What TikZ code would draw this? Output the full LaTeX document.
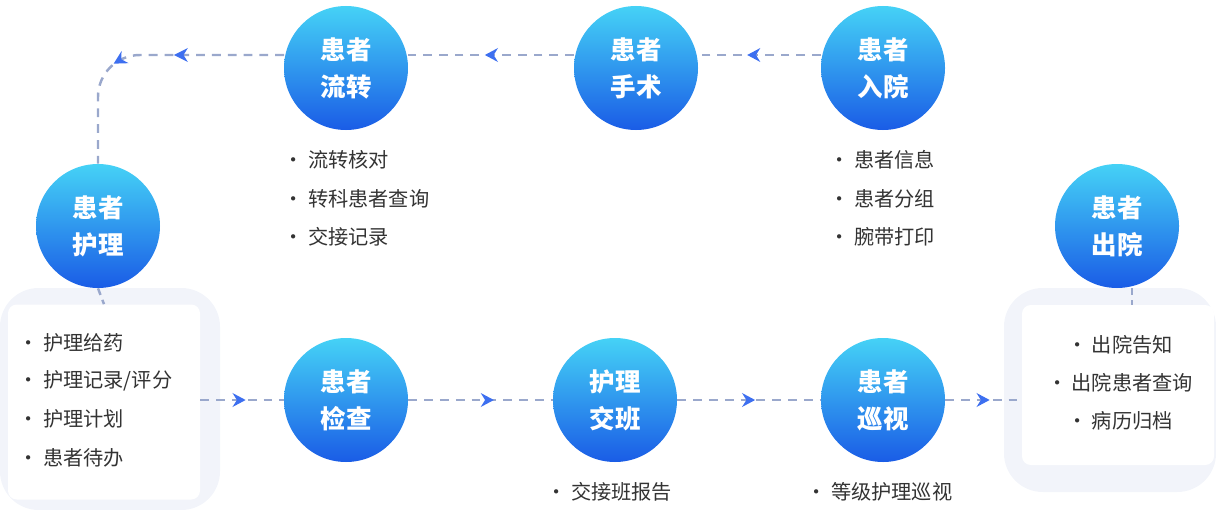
\documentclass[tikz,border=0pt]{standalone}
\usepackage{fontspec}
\newfontfamily\cjk{Noto Sans CJK SC}
\usetikzlibrary{arrows.meta,decorations.markings}
\definecolor{txt}{HTML}{333333}
\definecolor{dash}{HTML}{9AA8CC}
\definecolor{arr}{HTML}{3D6FF0}
\definecolor{ctop}{HTML}{45D2F6}
\definecolor{cbot}{HTML}{1A5CE6}
\definecolor{glow}{HTML}{F2F4FA}
\tikzset{
 circ/.style={circle,minimum size=124*0.02cm,inner sep=0pt,top color=ctop,bottom color=cbot,text=white,font=\cjk\fontsize{14.5}{21}\selectfont\bfseries,align=center},
 item/.style={font=\cjk\fontsize{11.5}{14}\selectfont,text=txt,anchor=west,inner sep=0pt},
 citem/.style={font=\cjk\fontsize{11.5}{14}\selectfont,text=txt,inner sep=0pt},
 dl/.style={draw=dash,line width=1.4pt,dash pattern=on 5pt off 4pt},
 mid/.style={postaction={decorate},decoration={markings,mark=at position #1 with {\fill[arr] (3.5pt,0)--(-4pt,4pt)--(-1.5pt,0)--(-4pt,-4pt)--cycle;}}},
 box/.style={fill=white,rounded corners=5pt,draw=none},
}
\begin{document}
\begin{tikzpicture}[x=0.02cm,y=-0.02cm]
\useasboundingbox (0,0) rectangle (1216,510);
% boxes
\fill[glow,rounded corners=22pt] (0,288) rectangle (220,510);
\fill[glow,rounded corners=22pt] (1004,288) rectangle (1216,492);
\node[box,minimum width=192*0.02cm,minimum height=195*0.02cm] (lb) at (104,402) {};
\node[box,minimum width=192*0.02cm,minimum height=160*0.02cm] (rb) at (1118,385) {};
% circles
\node[circ] (lz) at (346,68) {患者\\流转};
\node[circ] (ss) at (636,68) {患者\\手术};
\node[circ] (ry) at (883,68) {患者\\入院};
\node[circ] (hl) at (98,226) {患者\\护理};
\node[circ] (cy) at (1117,226) {患者\\出院};
\node[circ] (jc) at (346,400) {患者\\检查};
\node[circ] (jb) at (615,400) {护理\\交班};
\node[circ] (xs) at (883,400) {患者\\巡视};
% top connectors
\coordinate (t1) at (ry.west |- 0,55);
\draw[dl,mid=0.55] (821,55) -- (698,55);
\draw[dl,mid=0.5] (574,55) -- (408,55);
\draw[dl,mid=0.6] (284,55) -- (140,55) to[out=180,in=90] (98,97) -- (hl.north);
\fill[arr] (180-3.5/0.567,55) -- ++(8pt,4pt) -- ++(-2.5pt,-4pt) -- ++(2.5pt,-4pt) -- cycle;
% vertical short
\draw[dl,dash pattern=on 4pt off 3pt] (hl.south) -- (lb.north);
\draw[dl,dash pattern=on 4pt off 3pt] (1132,288) -- (1132,305);
% bottom connectors
\draw[dl,mid=0.47] (lb.east |- jc) -- (jc.west);
\draw[dl,mid=0.55] (jc.east) -- (jb.west);
\draw[dl,mid=0.5] (jb.east) -- (xs.west);
\draw[dl,mid=0.5] (xs.east) -- (rb.west |- xs);
% lists
\node[item] (a1) at (283,160) {· 流转核对};
\node[item] (a2) at (283,199) {· 转科患者查询};
\node[item] (a3) at (283,237) {· 交接记录};
\node[item] (b1) at (829,160) {· 患者信息};
\node[item] (b2) at (829,199) {· 患者分组};
\node[item] (b3) at (829,237) {· 腕带打印};
\node[item] (c1) at (18,343) {· 护理给药};
\node[item] (c2) at (18,381) {· 护理记录/评分};
\node[item] (c3) at (18,419) {· 护理计划};
\node[item] (c4) at (18,458) {· 患者待办};
\node[citem] (d1) at (1120,345) {· 出院告知};
\node[citem] (d2) at (1120,383) {· 出院患者查询};
\node[citem] (d3) at (1120,421) {· 病历归档};
\node[item] (e1) at (546,492) {· 交接班报告};
\node[item] (f1) at (806,492) {· 等级护理巡视};
\end{tikzpicture}
\end{document}
